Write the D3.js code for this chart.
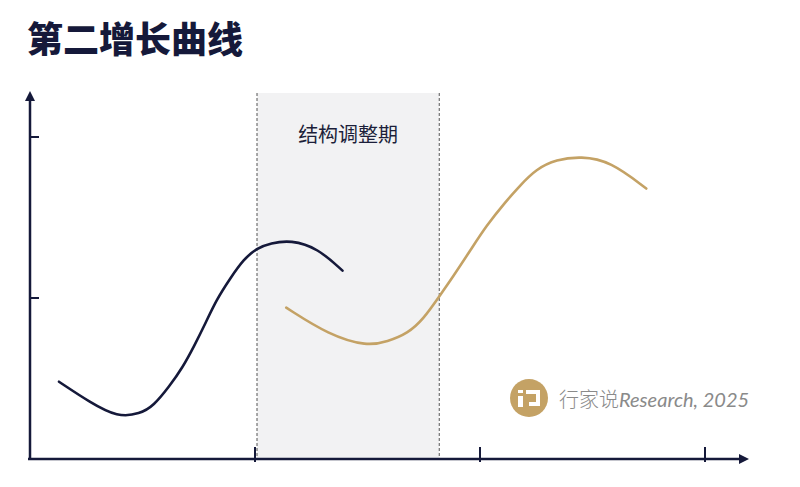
<!DOCTYPE html>
<html>
<head>
<meta charset="utf-8">
<script src="https://cdn.jsdelivr.net/npm/d3@7"></script>
<style>
  body { margin: 0; background: #fff; }
  svg { display: block; }
</style>
</head>
<body>
<script>
// Données (unités arbitraires)
var title = "第二增长曲线";
var phaseLabel = "结构调整期";
var phaseRange = [1.0, 1.81];
var xTicks = [1, 2, 3];
var yTicks = [1, 2];

var curve1X = [0.12, 0.26, 0.38, 0.48, 0.54, 0.61, 0.67, 0.72, 0.77, 0.82, 0.88, 0.94, 1.0, 1.06, 1.15, 1.27, 1.38];
var curve1Y = [0.48, 0.35, 0.26, 0.28, 0.33, 0.45, 0.57, 0.70, 0.84, 0.99, 1.12, 1.24, 1.31, 1.34, 1.36, 1.31, 1.17];
var curve2X = [1.13, 1.32, 1.49, 1.58, 1.67, 1.74, 1.81, 1.87, 1.95, 2.02, 2.10, 2.17, 2.24, 2.33, 2.44, 2.57, 2.73];
var curve2Y = [0.94, 0.77, 0.70, 0.73, 0.78, 0.87, 1.01, 1.13, 1.30, 1.45, 1.59, 1.70, 1.80, 1.86, 1.88, 1.85, 1.68];

var source = "行家说";
var sourceTail = "Research, 2025";

var W = 800, H = 487;
var navy = "#15193a", gold = "#c4a265";

var svg = d3.select("body").append("svg").attr("width", W).attr("height", H);

var x = d3.scaleLinear().domain([0, 3]).range([32, 707]);
var y = d3.scaleLinear().domain([0, 2]).range([459, 137]);

// titre
svg.append("text")
  .attr("x", 27).attr("y", 53)
  .attr("font-family", "Noto Sans CJK SC")
  .attr("font-weight", 900)
  .attr("font-size", 36)
  .attr("fill", navy)
  .text(title);

// zone grisée
svg.append("rect")
  .attr("x", x(phaseRange[0])).attr("y", 93)
  .attr("width", x(phaseRange[1]) - x(phaseRange[0]))
  .attr("height", y(0) - 93)
  .attr("fill", "#f2f2f3");
phaseRange.forEach(function (d) {
  svg.append("line")
    .attr("x1", x(d)).attr("x2", x(d))
    .attr("y1", 93).attr("y2", y(0))
    .attr("stroke", "#555").attr("stroke-width", 1)
    .attr("stroke-dasharray", "3,2");
});
svg.append("text")
  .attr("x", (x(phaseRange[0]) + x(phaseRange[1])) / 2)
  .attr("y", 142)
  .attr("text-anchor", "middle")
  .attr("font-family", "Noto Sans CJK SC")
  .attr("font-size", 20)
  .attr("fill", "#1c1f3a")
  .text(phaseLabel);

// axes
svg.append("defs").append("marker")
  .attr("id", "arrow").attr("viewBox", "0 0 10 10")
  .attr("refX", 5).attr("refY", 5)
  .attr("markerWidth", 4).attr("markerHeight", 4)
  .attr("orient", "auto")
  .append("path").attr("d", "M0,0L10,5L0,10z").attr("fill", navy);

svg.append("line")
  .attr("x1", 30).attr("x2", 30).attr("y1", y(0) + 1).attr("y2", 96)
  .attr("stroke", navy).attr("stroke-width", 2.5)
  .attr("marker-end", "url(#arrow)");
svg.append("line")
  .attr("x1", 28).attr("x2", 744).attr("y1", y(0)).attr("y2", y(0))
  .attr("stroke", navy).attr("stroke-width", 2.5)
  .attr("marker-end", "url(#arrow)");

svg.selectAll(".yt").data(yTicks).join("line")
  .attr("x1", 30).attr("x2", 39)
  .attr("y1", d => y(d)).attr("y2", d => y(d))
  .attr("stroke", navy).attr("stroke-width", 2);
svg.selectAll(".xt").data(xTicks).join("line")
  .attr("x1", d => x(d) - 2).attr("x2", d => x(d) - 2)
  .attr("y1", y(0) - 12).attr("y2", y(0) + 3)
  .attr("stroke", navy).attr("stroke-width", 2);

// courbes
var line = d3.line().x(d => x(d[0])).y(d => y(d[1])).curve(d3.curveBasis);
svg.append("path")
  .attr("d", line(d3.zip(curve1X, curve1Y)))
  .attr("fill", "none").attr("stroke", navy).attr("stroke-width", 2.6)
  .attr("stroke-linecap", "round");
svg.append("path")
  .attr("d", line(d3.zip(curve2X, curve2Y)))
  .attr("fill", "none").attr("stroke", gold).attr("stroke-width", 2.6)
  .attr("stroke-linecap", "round");

// filigrane
var logo = svg.append("g").attr("transform", "translate(529,398)");
logo.append("circle").attr("r", 19).attr("fill", gold);
logo.append("path")
  .attr("d", "M-11,-8h5v3h-5z M-11,-2h5v11h-5z M-3,-8h14v16h-11v-4h7v-8h-10z")
  .attr("fill", "#fff");
svg.append("text")
  .attr("x", 559).attr("y", 407)
  .attr("font-size", 20)
  .attr("fill", "#8a8a8a")
  .call(t => {
    t.append("tspan").attr("font-family", "Noto Sans CJK SC").attr("font-weight", 300).text(source);
    t.append("tspan").attr("font-family", "Lato").attr("font-style", "italic").text(sourceTail);
  });
</script>
</body>
</html>
